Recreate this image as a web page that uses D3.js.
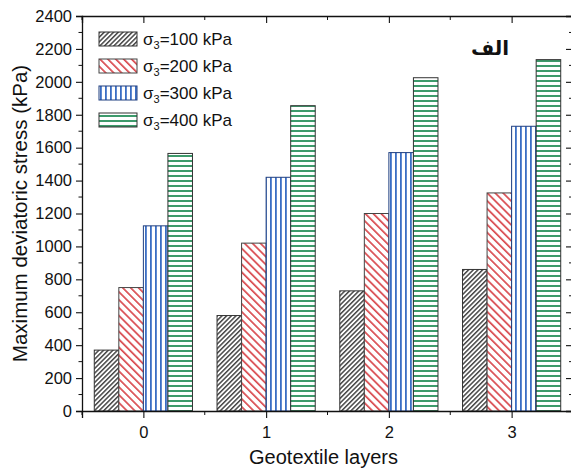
<!DOCTYPE html>
<html>
<head>
<meta charset="utf-8">
<script src="https://cdn.jsdelivr.net/npm/d3@7/dist/d3.min.js"></script>
<style>
  html, body { margin: 0; padding: 0; background: #fff; }
  svg { display: block; }
  text { font-family: Arial, "Liberation Sans", sans-serif; fill: #111; }
</style>
</head>
<body>
<div id="chart"></div>
<script>
// Geotextile layers on the x axis, confining pressure series
const categories = [0, 1, 2, 3];
const seriesNames = ["100", "200", "300", "400"];
const s100 = [370, 580, 730, 860];
const s200 = [750, 1020, 1200, 1325];
const s300 = [1125, 1420, 1570, 1730];
const s400 = [1565, 1855, 2025, 2135];
const yTicks = [0, 200, 400, 600, 800, 1000, 1200, 1400, 1600, 1800, 2000, 2200, 2400];
const seriesValues = [s100, s200, s300, s400];

const W = 571, H = 468;
const plotLeft = 82, plotRight = 573, plotTop = 16, plotBottom = 411;

const svg = d3.select("#chart").append("svg")
  .attr("width", W).attr("height", H);

const x = d3.scaleLinear().domain([-0.5, 3.5]).range([plotLeft, plotRight]);
const y = d3.scaleLinear().domain([0, 2400]).range([plotBottom, plotTop]);
const barW = x(0.2) - x(0);

// Hatch fills
const defs = svg.append("defs");
function linePattern(id, angle, gap, color, width) {
  const p = defs.append("pattern")
    .attr("id", id)
    .attr("patternUnits", "userSpaceOnUse")
    .attr("width", gap).attr("height", 20)
    .attr("patternTransform", `rotate(${angle})`);
  p.append("rect").attr("width", gap).attr("height", 20).attr("fill", "#fff");
  p.append("rect").attr("x", 0).attr("y", 0)
    .attr("width", width).attr("height", 20).attr("fill", color);
}
linePattern("hatch100", 45, 3.3, "#474747", 1.5);
linePattern("hatch200", -45, 5.6, "#d94a4f", 1.7);
linePattern("hatch300", 0, 5.0, "#3a6ec4", 1.8);
linePattern("hatch400", 90, 5.0, "#3d9a6b", 2.0);

const fills = ["url(#hatch100)", "url(#hatch200)", "url(#hatch300)", "url(#hatch400)"];
const strokes = ["#333", "#444", "#1f3f80", "#333"];

// Bars
seriesValues.forEach((vals, si) => {
  svg.append("g").selectAll("rect")
    .data(categories.map((c, i) => ({ c, v: vals[i] })))
    .join("rect")
    .attr("x", d => x(d.c) + (si - 2) * barW)
    .attr("y", d => y(d.v))
    .attr("width", barW)
    .attr("height", d => y(0) - y(d.v))
    .attr("fill", fills[si])
    .attr("stroke", strokes[si])
    .attr("stroke-width", 1);
});

// Axes
const axisColor = "#111";
const yMinor = d3.range(100, 2400, 200);
const xMinor = [-0.5, 0.5, 1.5, 2.5, 3.5];

const gL = svg.append("g").attr("transform", `translate(${plotLeft},0)`)
  .call(d3.axisLeft(y).tickValues(yTicks).tickSize(6).tickPadding(4).tickFormat(d3.format("d")));
gL.selectAll("text").style("font-size", "16.5px");
gL.append("g").selectAll("line").data(yMinor).join("line")
  .attr("x1", -3.5).attr("x2", 0).attr("y1", d => y(d)).attr("y2", d => y(d))
  .attr("stroke", axisColor);

const gB = svg.append("g").attr("transform", `translate(0,${plotBottom})`)
  .call(d3.axisBottom(x).tickValues(categories).tickSize(7).tickPadding(8).tickFormat(d3.format("d")));
gB.selectAll("text").style("font-size", "16.5px");
gB.append("g").selectAll("line").data(xMinor).join("line")
  .attr("x1", d => x(d)).attr("x2", d => x(d)).attr("y1", 0).attr("y2", 4)
  .attr("stroke", axisColor);

const gT = svg.append("g").attr("transform", `translate(0,${plotTop})`)
  .call(d3.axisTop(x).tickValues(categories).tickSize(-7).tickFormat(""));
gT.append("g").selectAll("line").data(xMinor).join("line")
  .attr("x1", d => x(d)).attr("x2", d => x(d)).attr("y1", 0).attr("y2", 4)
  .attr("stroke", axisColor);

const gR = svg.append("g").attr("transform", `translate(${plotRight},0)`)
  .call(d3.axisRight(y).tickValues(yTicks).tickSize(-7).tickFormat(""));
gR.append("g").selectAll("line").data(yMinor).join("line")
  .attr("x1", -4).attr("x2", 0).attr("y1", d => y(d)).attr("y2", d => y(d))
  .attr("stroke", axisColor);

svg.selectAll(".domain").attr("stroke", axisColor).attr("stroke-width", 1.3);
svg.selectAll(".tick line").attr("stroke", axisColor).attr("stroke-width", 1.1);

// Axis titles
svg.append("text")
  .attr("x", (plotLeft + plotRight) / 2 - 4).attr("y", 464)
  .attr("text-anchor", "middle").style("font-size", "20px")
  .text("Geotextile layers");
svg.append("text")
  .attr("transform", `translate(27,${(plotTop + plotBottom) / 2}) rotate(-90)`)
  .attr("text-anchor", "middle").style("font-size", "20.5px")
  .text("Maximum deviatoric stress (kPa)");

// Legend
const lg = svg.append("g");
seriesNames.forEach((name, i) => {
  const yy = 32 + i * 27;
  lg.append("rect")
    .attr("x", 99).attr("y", yy).attr("width", 38).attr("height", 14)
    .attr("fill", fills[i]).attr("stroke", strokes[i]).attr("stroke-width", 1);
  const t = lg.append("text").attr("x", 143).attr("y", yy + 13).style("font-size", "17px");
  t.append("tspan").text("σ");
  t.append("tspan").attr("dy", 4).style("font-size", "11px").text("3");
  t.append("tspan").attr("dy", -4).text(`=${name} kPa`);
});

// Panel label
svg.append("text")
  .attr("x", 490).attr("y", 55)
  .attr("text-anchor", "middle")
  .style("font-family", "'DejaVu Sans', sans-serif")
  .style("font-weight", "bold").style("font-size", "20px")
  .text("الف");
</script>
</body>
</html>
